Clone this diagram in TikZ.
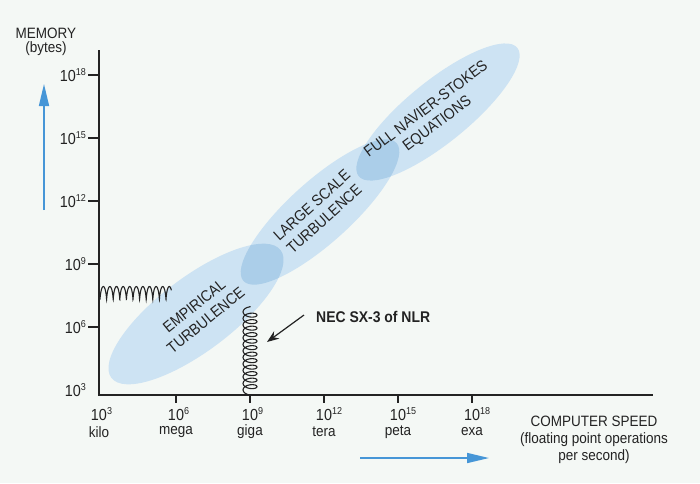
\documentclass[tikz,border=0pt]{standalone}
\usepackage{fontspec}
\setmainfont{Liberation Sans}[FakeStretch=0.9]
\usetikzlibrary{arrows.meta,decorations.pathmorphing}
\definecolor{bg}{RGB}{244,248,245}
\definecolor{ell}{RGB}{205,227,243}
\definecolor{ovl}{RGB}{171,206,233}
\definecolor{ink}{RGB}{35,35,35}
\definecolor{arrowblue}{RGB}{70,150,215}
\newcommand\pw[1]{10\rlap{\raisebox{0.42em}{\fontsize{10}{10}\selectfont #1}}}
\newcommand\pwr[1]{10\raisebox{0.42em}{\fontsize{10}{10}\selectfont #1}}
\tikzset{
  lbl/.style={font=\fontsize{15}{17}\selectfont, text=ink, inner sep=0pt, align=center},
  reglbl/.style={font=\fontsize{15.5}{18.5}\selectfont, text=ink, inner sep=0pt, align=center},
  ticklbl/.style={font=\fontsize{16}{17}\selectfont, text=ink, inner sep=0pt},
  axisline/.style={draw=ink, line width=2pt},
  tickline/.style={draw=ink, line width=1.2pt},
  bluearrow/.style={draw=arrowblue, line width=1.6pt, -{Triangle[length=22pt,width=10pt]}},
  wave/.style={draw=ink, line width=1.1pt},
  blackarrow/.style={draw=ink, line width=1.2pt, -{Stealth[length=12pt,width=9pt]}}
}
\begin{document}
\begin{tikzpicture}[x=1pt,y=-1pt]
\fill[bg] (0,0) rectangle (700,483);
\useasboundingbox (0,0) rectangle (700,483);
% regions
\fill[ell, rotate around={37:(196,314)}] (196,314) ellipse [x radius=106pt, y radius=37pt];
\fill[ell, rotate around={42:(320,212)}] (320,212) ellipse [x radius=103pt, y radius=31pt];
\fill[ell, rotate around={39:(438,112)}] (438,112) ellipse [x radius=102pt, y radius=31pt];
\begin{scope}
  \clip[rotate around={37:(196,314)}] (196,314) ellipse [x radius=106pt, y radius=37pt];
  \fill[ovl, rotate around={42:(320,212)}] (320,212) ellipse [x radius=103pt, y radius=31pt];
\end{scope}
\begin{scope}
  \clip[rotate around={42:(320,212)}] (320,212) ellipse [x radius=103pt, y radius=31pt];
  \fill[ovl, rotate around={39:(438,112)}] (438,112) ellipse [x radius=102pt, y radius=31pt];
\end{scope}
% region labels
\node[reglbl, rotate=39] (emp) at (200,313) {EMPIRICAL\\TURBULENCE};
\node[reglbl, rotate=42] (les) at (318,212) {LARGE SCALE\\TURBULENCE};
\node[reglbl, rotate=37] (nse) at (432,117) {FULL NAVIER-STOKES\\EQUATIONS};
% axes
\coordinate (ytop) at (99,50);
\coordinate (orig) at (99,395);
\coordinate (xend) at (653,395);
\draw[axisline] (ytop) -- (orig) -- (xend);
\foreach \y/\e in {75/18,138/15,201/12,264/9,327/6} {
  \draw[tickline] (88,\y) -- (99,\y);
  \node[ticklbl, anchor=east] (ylab\e) at (86,\y) {\pwr{\e}};
}
\node[ticklbl, anchor=east] (ylab3) at (86,390) {\pwr{3}};
\foreach \x/\e/\n in {99/3/kilo,176/6/mega,250/9/giga,324/12/tera,398/15/peta,472/18/exa} {
  \node[ticklbl] (xlab\e) at (\x,414) {\pw{\e}};
  \node[lbl] (xname\e) at (\x,432) {\n};
}
\foreach \x in {176,250,324,398,472} {
  \draw[tickline] (\x,395) -- (\x,403);
}
% axis titles
\node[lbl] (mem) at (46,33) {MEMORY};
\node[lbl] (bytes) at (46,49) {(bytes)};
\node[lbl] (speed) at (594,440) {COMPUTER SPEED\\(floating point operations\\per second)};
% blue arrows
\coordinate (ua0) at (44,210);
\coordinate (ua1) at (44,84);
\draw[bluearrow] (ua0) -- (ua1);
\coordinate (ra0) at (360,458);
\coordinate (ra1) at (489,458);
\draw[bluearrow] (ra0) -- (ra1);
% wavy lines
\draw[wave] plot[domain=0:70.5, samples=320, smooth]
  ({100+\x-0.966*sin(54.5454*\x)}, {293+6.5*cos(54.5454*\x)});
\coordinate (vw0) at (250,395);
\coordinate (vw1) at (250,306);
\draw[wave, decorate, decoration={coil, amplitude=7pt, segment length=6.5pt, aspect=0.5}] (vw0) -- (vw1);
% NEC label
\node[lbl, font=\fontsize{15.5}{17}\selectfont\bfseries, anchor=west] (nec) at (316,317) {NEC SX-3 of NLR};
\coordinate (nectip) at (267,342);
\draw[blackarrow] ([xshift=-12pt,yshift=2pt]nec.west) -- (nectip);
\end{tikzpicture}
\end{document}
